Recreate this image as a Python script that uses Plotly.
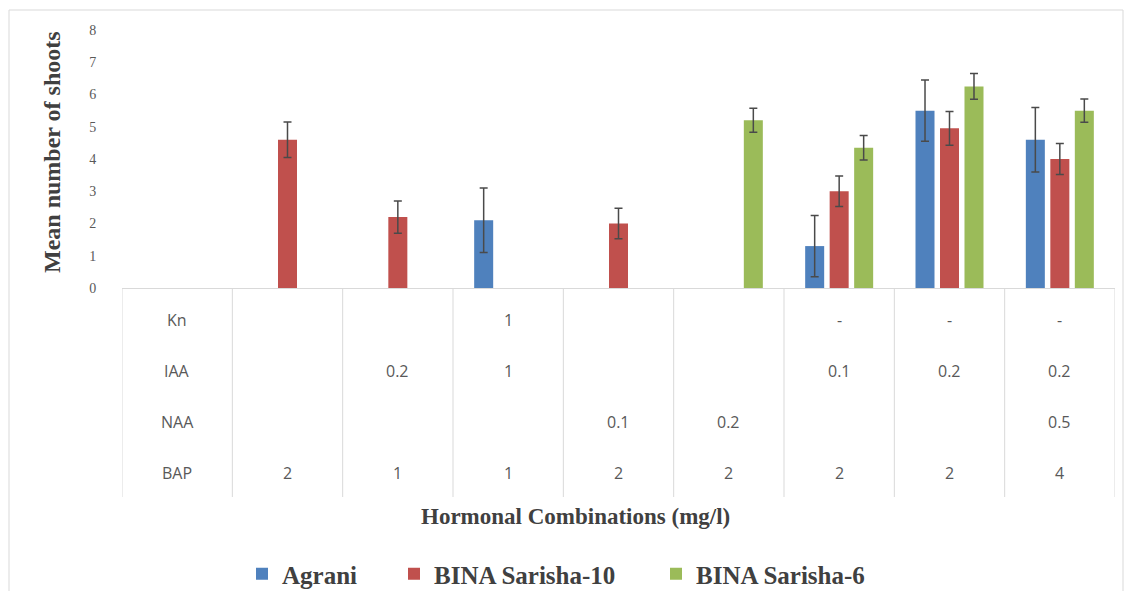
import plotly.graph_objects as go

# ---------------- data ----------------
categories = [
    "BAP 2", "BAP 1 + IAA 0.2", "BAP 1 + IAA 1 + Kn 1", "BAP 2 + NAA 0.1",
    "BAP 2 + NAA 0.2", "BAP 2 + IAA 0.1", "BAP 2 + IAA 0.2", "BAP 4 + IAA 0.2 + NAA 0.5",
]
series_names = ["Agrani", "BINA Sarisha-10", "BINA Sarisha-6"]
agrani = [None, None, 2.1, None, None, 1.3, 5.5, 4.6]
agrani_err = [0, 0, 1.0, 0, 0, 0.95, 0.95, 1.0]
bina10 = [4.6, 2.2, None, 2.0, None, 3.0, 4.95, 4.0]
bina10_err = [0.55, 0.5, 0, 0.47, 0, 0.47, 0.52, 0.48]
bina6 = [None, None, None, None, 5.2, 4.35, 6.25, 5.5]
bina6_err = [0, 0, 0, 0, 0.37, 0.38, 0.4, 0.36]

row_labels = ["Kn", "IAA", "NAA", "BAP"]
kn_row = ["", "", "1", "", "", "-", "-", "-"]
iaa_row = ["", "0.2", "1", "", "", "0.1", "0.2", "0.2"]
naa_row = ["", "", "", "0.1", "0.2", "", "", "0.5"]
bap_row = ["2", "1", "1", "2", "2", "2", "2", "4"]
table_rows = [kn_row, iaa_row, naa_row, bap_row]

y_ticks = [0, 1, 2, 3, 4, 5, 6, 7, 8]

colors = ["#4F81BD", "#C0504D", "#9BBB59"]

# ---------------- layout helpers (screen pixel targets) ----------------
OFF = 8                      # default page body margin around the figure
SW, SH = 1132, 599           # browser window
W, H = SW - 2 * OFF, SH - 2 * OFF
PL, PR, PT, PB = 122, 1115, 30, 288  # plot area in screen pixels


def px_x(p):
    return (p - PL) / (PR - PL)


def px_y(p):
    return (PB - p) / (PB - PT)


serif = "Liberation Serif"
sans = "Open Sans"

fig = go.Figure()
legend_ids = ["legend", "legend2", "legend3"]
for name, vals, errs, col, lg in zip(series_names, [agrani, bina10, bina6],
                                     [agrani_err, bina10_err, bina6_err], colors, legend_ids):
    fig.add_trace(go.Bar(
        x=categories, y=vals, name=name, marker_color=col, marker_line_width=0,
        legend=lg,
        error_y=dict(type="data", array=errs, visible=True, color="#4a4a4a",
                     thickness=1.5, width=4),
    ))

n = len(categories)
shapes = []
# table vertical lines
for i in range(n + 2):
    xv = -1.5 + i
    shapes.append(dict(type="line", xref="x", yref="paper", x0=xv, x1=xv,
                       y0=px_y(289), y1=px_y(497),
                       line=dict(color="#d9d9d9", width=1)))
# outer chart border
shapes.append(dict(type="rect", xref="paper", yref="paper",
                   x0=px_x(9), x1=px_x(1123), y0=px_y(600), y1=px_y(10),
                   line=dict(color="#d9d9d9", width=1), fillcolor="rgba(0,0,0,0)"))

annotations = []
row_y = [320, 371, 422, 473]
tfont = dict(family=sans, size=16, color="#595959")
for label, rvals, ry in zip(row_labels, table_rows, row_y):
    annotations.append(dict(x=-1, y=px_y(ry), xref="x", yref="paper", text=label,
                            xanchor="center", yanchor="middle",
                            showarrow=False, font=tfont))
    for i, v in enumerate(rvals):
        if v:
            annotations.append(dict(x=i, y=px_y(ry), xref="x", yref="paper", text=v,
                                    xanchor="center", yanchor="middle",
                                    showarrow=False, font=tfont))

annotations.append(dict(x=px_x(575), y=px_y(516), xref="paper", yref="paper",
                        xanchor="center", yanchor="middle",
                        text="Hormonal Combinations (mg/l)", showarrow=False,
                        font=dict(family=serif, size=23, color="#404040", weight="bold")))
annotations.append(dict(x=px_x(52), y=px_y(152), xref="paper", yref="paper",
                        xanchor="center", yanchor="middle",
                        text="Mean number of shoots", showarrow=False, textangle=-90,
                        font=dict(family=serif, size=24, color="#404040", weight="bold")))

lfont = dict(family=serif, size=25, color="#404040", weight="bold")
leg_text_start = [282, 434, 696]
legends = {}
for lg, xs in zip(legend_ids, leg_text_start):
    legends[lg] = dict(orientation="h", x=px_x(xs - 40), xanchor="left", y=px_y(574),
                       yanchor="middle", font=lfont, bgcolor="rgba(0,0,0,0)")

fig.update_layout(
    width=W, height=H,
    margin=dict(l=PL - OFF, r=W - (PR - OFF), t=PT - OFF, b=H - (PB - OFF),
                autoexpand=False),
    plot_bgcolor="white", paper_bgcolor="white",
    barmode="group", bargap=0.334, bargroupgap=0.224,
    showlegend=True,
    shapes=shapes, annotations=annotations,
    xaxis=dict(type="category", categoryarray=categories, range=[-1.5, n - 0.5],
               showticklabels=False, ticks="", showgrid=False, zeroline=False,
               showline=True, linecolor="#d9d9d9", linewidth=1),
    yaxis=dict(range=[0, 8], tickvals=y_ticks, showgrid=False, zeroline=False,
               showline=False, ticks="outside", ticklen=22, tickcolor="rgba(0,0,0,0)",
               tickfont=dict(family=serif, size=14, color="#595959")),
    **legends,
)

fig.write_html("out.html")
